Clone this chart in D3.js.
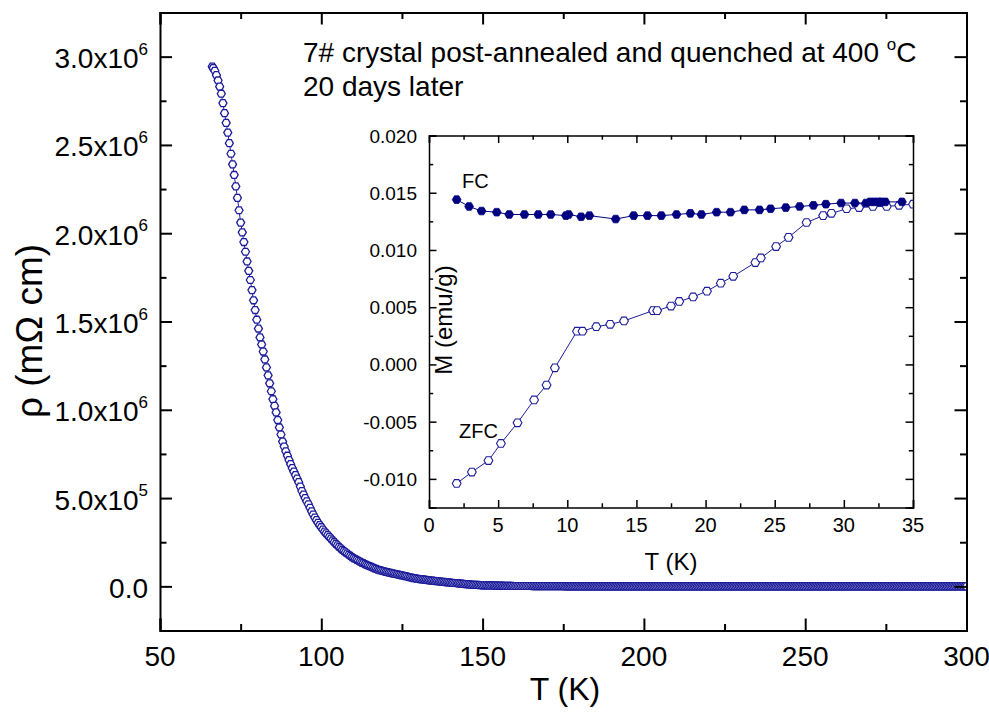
<!DOCTYPE html>
<html>
<head>
<meta charset="utf-8">
<script src="https://d3js.org/d3.v7.min.js"></script>
<style>
  body { margin: 0; background: #fff; }
  text { font-family: "Liberation Sans", Arial, sans-serif; fill: #000; }
</style>
</head>
<body>
<svg id="chart" width="989" height="726"></svg>
<script>
// main curve: resistivity vs temperature (rho in units of 1e6 mOhm cm)
const tempMain = [
  66.2,
  66.5, 67.0, 67.5, 68.0, 68.5, 69.0, 69.5, 70.0, 70.5, 71.0,
  71.5, 72.0, 72.5, 73.0, 73.5, 74.0, 74.5, 75.0, 75.5, 76.0,
  76.5, 77.0, 77.5, 78.0, 78.5, 79.0, 79.5, 80.0, 80.5, 81.0,
  81.5, 82.0, 82.5, 83.0, 83.5, 84.0, 84.5, 85.0, 85.5, 86.0,
  86.5, 87.0, 87.5, 88.0, 88.5, 89.0, 89.5, 90.0, 90.5, 91.0,
  91.5, 92.0, 92.5, 93.0, 93.5, 94.0, 94.5, 95.0, 95.5, 96.0,
  96.5, 97.0, 97.5, 98.0, 98.5, 99.0, 99.5, 100.0, 100.5, 101.0,
  101.5, 102.0, 102.5, 103.0, 103.5, 104.0, 104.5, 105.0, 105.5, 106.0,
  106.5, 107.0, 107.5, 108.0, 108.5, 109.0, 109.5, 110.0, 110.5, 111.0,
  111.5, 112.0, 112.5, 113.0, 113.5, 114.0, 114.5, 115.0, 115.5, 116.0,
  116.5, 117.0, 117.5, 118.0, 118.5, 119.0, 119.5, 120.0, 120.5, 121.0,
  121.5, 122.0, 122.5, 123.0, 123.5, 124.0, 124.5, 125.0, 125.5, 126.0,
  126.5, 127.0, 127.5, 128.0, 128.5, 129.0, 129.5, 130.0, 130.5, 131.0,
  131.5, 132.0, 132.5, 133.0, 133.5, 134.0, 134.5, 135.0, 135.5, 136.0,
  136.5, 137.0, 137.5, 138.0, 138.5, 139.0, 139.5, 140.0, 140.5, 141.0,
  141.5, 142.0, 142.5, 143.0, 143.5, 144.0, 144.5, 145.0, 145.5, 146.0,
  146.5, 147.0, 147.5, 148.0, 148.5, 149.0, 149.5, 150.0, 150.5, 151.0,
  151.5, 152.0, 152.5, 153.0, 153.5, 154.0, 154.5, 155.0, 155.5, 156.0,
  156.5, 157.0, 157.5, 158.0, 158.5, 159.0, 159.5, 160.0, 160.5, 161.0,
  161.5, 162.0, 162.5, 163.0, 163.5, 164.0, 164.5, 165.0, 165.5, 166.0,
  166.5, 167.0, 167.5, 168.0, 168.5, 169.0, 169.5, 170.0, 170.5, 171.0,
  171.5, 172.0, 172.5, 173.0, 173.5, 174.0, 174.5, 175.0, 175.5, 176.0,
  176.5, 177.0, 177.5, 178.0, 178.5, 179.0, 179.5, 180.0, 180.5, 181.0,
  181.5, 182.0, 182.5, 183.0, 183.5, 184.0, 184.5, 185.0, 185.5, 186.0,
  186.5, 187.0, 187.5, 188.0, 188.5, 189.0, 189.5, 190.0, 190.5, 191.0,
  191.5, 192.0, 192.5, 193.0, 193.5, 194.0, 194.5, 195.0, 195.5, 196.0,
  196.5, 197.0, 197.5, 198.0, 198.5, 199.0, 199.5, 200.0, 200.5, 201.0,
  201.5, 202.0, 202.5, 203.0, 203.5, 204.0, 204.5, 205.0, 205.5, 206.0,
  206.5, 207.0, 207.5, 208.0, 208.5, 209.0, 209.5, 210.0, 210.5, 211.0,
  211.5, 212.0, 212.5, 213.0, 213.5, 214.0, 214.5, 215.0, 215.5, 216.0,
  216.5, 217.0, 217.5, 218.0, 218.5, 219.0, 219.5, 220.0, 220.5, 221.0,
  221.5, 222.0, 222.5, 223.0, 223.5, 224.0, 224.5, 225.0, 225.5, 226.0,
  226.5, 227.0, 227.5, 228.0, 228.5, 229.0, 229.5, 230.0, 230.5, 231.0,
  231.5, 232.0, 232.5, 233.0, 233.5, 234.0, 234.5, 235.0, 235.5, 236.0,
  236.5, 237.0, 237.5, 238.0, 238.5, 239.0, 239.5, 240.0, 240.5, 241.0,
  241.5, 242.0, 242.5, 243.0, 243.5, 244.0, 244.5, 245.0, 245.5, 246.0,
  246.5, 247.0, 247.5, 248.0, 248.5, 249.0, 249.5, 250.0, 250.5, 251.0,
  251.5, 252.0, 252.5, 253.0, 253.5, 254.0, 254.5, 255.0, 255.5, 256.0,
  256.5, 257.0, 257.5, 258.0, 258.5, 259.0, 259.5, 260.0, 260.5, 261.0,
  261.5, 262.0, 262.5, 263.0, 263.5, 264.0, 264.5, 265.0, 265.5, 266.0,
  266.5, 267.0, 267.5, 268.0, 268.5, 269.0, 269.5, 270.0, 270.5, 271.0,
  271.5, 272.0, 272.5, 273.0, 273.5, 274.0, 274.5, 275.0, 275.5, 276.0,
  276.5, 277.0, 277.5, 278.0, 278.5, 279.0, 279.5, 280.0, 280.5, 281.0,
  281.5, 282.0, 282.5, 283.0, 283.5, 284.0, 284.5, 285.0, 285.5, 286.0,
  286.5, 287.0, 287.5, 288.0, 288.5, 289.0, 289.5, 290.0, 290.5, 291.0,
  291.5, 292.0, 292.5, 293.0, 293.5, 294.0, 294.5, 295.0, 295.5, 296.0,
  296.5, 297.0, 297.5, 298.0, 298.5, 299.0, 299.5, 300.0
];
const rhoMain = [
  2.944,
  2.935, 2.920, 2.895, 2.865, 2.830, 2.790, 2.737, 2.680, 2.625, 2.570,
  2.510, 2.450, 2.390, 2.330, 2.265, 2.200, 2.130, 2.060, 2.005, 1.950,
  1.895, 1.840, 1.787, 1.735, 1.678, 1.620, 1.565, 1.510, 1.460, 1.410,
  1.370, 1.330, 1.285, 1.240, 1.195, 1.150, 1.105, 1.060, 1.022, 0.985,
  0.942, 0.900, 0.860, 0.820, 0.792, 0.765, 0.740, 0.715, 0.692, 0.670,
  0.650, 0.630, 0.610, 0.590, 0.565, 0.540, 0.520, 0.500, 0.482, 0.465,
  0.445, 0.425, 0.407, 0.390, 0.375, 0.360, 0.347, 0.335, 0.322, 0.310,
  0.300, 0.290, 0.280, 0.270, 0.260, 0.250, 0.241, 0.232, 0.223, 0.215,
  0.207, 0.200, 0.193, 0.186, 0.179, 0.173, 0.166, 0.160, 0.155, 0.150,
  0.145, 0.140, 0.135, 0.131, 0.126, 0.122, 0.118, 0.114, 0.110, 0.106,
  0.102, 0.099, 0.095, 0.092, 0.090, 0.087, 0.085, 0.082, 0.080, 0.078,
  0.076, 0.074, 0.072, 0.070, 0.068, 0.066, 0.064, 0.062, 0.060, 0.058,
  0.056, 0.053, 0.051, 0.049, 0.047, 0.046, 0.044, 0.043, 0.041, 0.040,
  0.039, 0.038, 0.037, 0.035, 0.034, 0.033, 0.032, 0.031, 0.030, 0.029,
  0.028, 0.027, 0.026, 0.025, 0.024, 0.023, 0.022, 0.021, 0.020, 0.019,
  0.019, 0.018, 0.017, 0.016, 0.015, 0.014, 0.013, 0.012, 0.011, 0.011,
  0.010, 0.009, 0.009, 0.008, 0.008, 0.007, 0.007, 0.006, 0.006, 0.006,
  0.005, 0.005, 0.005, 0.005, 0.004, 0.004, 0.004, 0.004, 0.004, 0.004,
  0.003, 0.003, 0.003, 0.003, 0.003, 0.003, 0.002, 0.002, 0.002, 0.002,
  0.002, 0.002, 0.002, 0.002, 0.002, 0.002, 0.002, 0.002, 0.001, 0.001,
  0.001, 0.001, 0.001, 0.001, 0.001, 0.001, 0.001, 0.001, 0.001, 0.001,
  0.001, 0.001, 0.001, 0.001, 0.001, 0.001, 0.001, 0.001, 0, 0,
  0, 0, 0, 0, 0, 0, 0, 0, 0, 0,
  0, 0, 0, 0, 0, 0, 0, 0, 0, 0,
  0, 0, 0, 0, 0, 0, 0, 0, 0, 0,
  0, 0, 0, 0, 0, 0, 0, 0, 0, 0,
  0, 0, 0, 0, 0, 0, 0, 0, 0, 0,
  0, 0, 0, 0, 0, 0, 0, 0, 0, 0,
  0, 0, 0, 0, 0, 0, 0, 0, 0, 0,
  0, 0, 0, 0, 0, 0, 0, 0, 0, 0,
  0, 0, 0, 0, 0, 0, 0, 0, 0, 0,
  0, 0, 0, 0, 0, 0, 0, 0, 0, 0,
  0, 0, 0, 0, 0, 0, 0, 0, 0, 0,
  0, 0, 0, 0, 0, 0, 0, 0, 0, 0,
  0, 0, 0, 0, 0, 0, 0, 0, 0, 0,
  0, 0, 0, 0, 0, 0, 0, 0, 0, 0,
  0, 0, 0, 0, 0, 0, 0, 0, 0, 0,
  0, 0, 0, 0, 0, 0, 0, 0, 0, 0,
  0, 0, 0, 0, 0, 0, 0, 0, 0, 0,
  0, 0, 0, 0, 0, 0, 0, 0, 0, 0,
  0, 0, 0, 0, 0, 0, 0, 0, 0, 0,
  0, 0, 0, 0, 0, 0, 0, 0, 0, 0,
  0, 0, 0, 0, 0, 0, 0, 0, 0, 0,
  0, 0, 0, 0, 0, 0, 0, 0, 0, 0,
  0, 0, 0, 0, 0, 0, 0, 0, 0, 0,
  0, 0, 0, 0, 0, 0, 0, 0, 0, 0,
  0, 0, 0, 0, 0, 0, 0, 0
];

// inset: magnetization, field cooled / zero field cooled
const fcTemp = [2.0, 2.9, 3.8, 4.9, 5.8, 6.9, 7.9, 8.8, 9.9, 10.1, 11.0, 11.6, 13.5, 14.8, 15.8, 16.8, 17.9, 18.9,
  19.7, 20.8, 21.8, 22.8, 23.9, 24.7, 25.8, 26.8, 27.8, 28.7, 29.8, 30.8, 31.6, 31.9, 32.2, 32.5, 32.7, 33.0, 34.2];
const fcM = [0.0144, 0.0138, 0.0134, 0.0133, 0.0131, 0.0131, 0.0131, 0.0131, 0.0130, 0.0131, 0.0129, 0.0130, 0.0127, 0.0130, 0.0130, 0.0130, 0.0131, 0.0132,
  0.0131, 0.0133, 0.0133, 0.0135, 0.0135, 0.0136, 0.0137, 0.0138, 0.0139, 0.0140, 0.0141, 0.0141, 0.0141, 0.0142, 0.0142, 0.0142, 0.0142, 0.0142, 0.0142];
const zfcTemp = [2.0, 3.1, 4.3, 5.2, 6.4, 7.6, 8.5, 9.1, 10.7, 11.1, 12.1, 13.1, 14.1, 16.2, 16.5, 17.5, 18.1, 19.1,
  20.1, 21.1, 22.0, 23.6, 24.0, 25.1, 26.0, 27.3, 28.5, 29.1, 30.2, 31.1, 32.1, 33.1, 34.0, 35.0];
const zfcM = [-0.0104, -0.0094, -0.0084, -0.0069, -0.0051, -0.0031, -0.0018, -0.0003, 0.0029, 0.0029, 0.0033, 0.0035, 0.0038, 0.0047, 0.0047, 0.0051, 0.0055, 0.0059,
  0.0064, 0.0071, 0.0077, 0.0089, 0.0093, 0.0103, 0.0111, 0.0124, 0.0130, 0.0132, 0.0136, 0.0137, 0.0138, 0.0138, 0.0139, 0.0140];

// tick values and labels
const mainXTicks = [50, 100, 150, 200, 250, 300];
const mainXMinor = [75, 125, 175, 225, 275];
const mainYTicks = [0, 0.5, 1.0, 1.5, 2.0, 2.5, 3.0];
const mainYMinor = [0.25, 0.75, 1.25, 1.75, 2.25, 2.75];
const mainYLabels = ["0.0", "5.0x10", "1.0x10", "1.5x10", "2.0x10", "2.5x10", "3.0x10"];
const mainYExp = ["", "5", "6", "6", "6", "6", "6"];
const insetXTicks = [0, 5, 10, 15, 20, 25, 30, 35];
const insetXMinor = [2.5, 7.5, 12.5, 17.5, 22.5, 27.5, 32.5];
const insetYTicks = [-0.010, -0.005, 0.000, 0.005, 0.010, 0.015, 0.020];
const insetYMinor = [-0.0125, -0.0075, -0.0025, 0.0025, 0.0075, 0.0125, 0.0175];

const svg = d3.select("#chart");
const blue = "#1c1c9a", navy = "#000080";

// hexagon marker, flat top and bottom
function hexPath(r) {
  const pts = d3.range(6).map(i => [r * Math.cos(i * Math.PI / 3), r * Math.sin(i * Math.PI / 3)]);
  return "M" + pts.map(p => p[0].toFixed(2) + "," + p[1].toFixed(2)).join("L") + "Z";
}

// ---------- main chart ----------
const x = d3.scaleLinear().domain([50, 300]).range([160, 966.5]);
const y = d3.scaleLinear().domain([-0.25, 3.25]).range([630.5, 12.5]);

svg.append("clipPath").attr("id", "clipMain")
  .append("rect").attr("x", 160).attr("y", 12.5).attr("width", 806.5).attr("height", 618);

const mainData = tempMain.map((t, i) => ({t: t, r: rhoMain[i]}));
const gm = svg.append("g").attr("clip-path", "url(#clipMain)");
gm.append("path").datum(mainData)
  .attr("fill", "none").attr("stroke", blue).attr("stroke-width", 1)
  .attr("d", d3.line().x(d => x(d.t)).y(d => y(d.r)));
gm.selectAll("path.pt").data(mainData).enter().append("path")
  .attr("class", "pt")
  .attr("d", hexPath(4))
  .attr("transform", d => "translate(" + x(d.t) + "," + y(d.r) + ")")
  .attr("fill", "#fff").attr("stroke", blue).attr("stroke-width", 1.3);

// axes with inward ticks (all four sides)
function addAxis(g, axis, majors, minors, bigLen, smallLen, width) {
  g.call(axis.tickValues(majors).tickSize(-bigLen).tickFormat(""));
  const minorG = g.append("g");
  minorG.call(axis.tickValues(minors).tickSize(-smallLen).tickFormat(""));
  minorG.select(".domain").remove();
  g.selectAll("line").attr("stroke", "#000").attr("stroke-width", width);
  g.selectAll(".domain").attr("stroke", "#000").attr("stroke-width", width);
}
addAxis(svg.append("g").attr("transform", "translate(0,630.5)"), d3.axisBottom(x), mainXTicks, mainXMinor, 12, 6.5, 2);
addAxis(svg.append("g").attr("transform", "translate(0,12.5)"), d3.axisTop(x), mainXTicks, mainXMinor, 12, 6.5, 2);
addAxis(svg.append("g").attr("transform", "translate(160,0)"), d3.axisLeft(y), mainYTicks, mainYMinor, 12, 6.5, 2);
addAxis(svg.append("g").attr("transform", "translate(966.5,0)"), d3.axisRight(y), mainYTicks, mainYMinor, 12, 6.5, 2);

// tick labels
svg.append("g").selectAll("text").data(mainXTicks).enter().append("text")
  .attr("x", d => x(d)).attr("y", 666)
  .attr("text-anchor", "middle").attr("font-size", 28)
  .text(d => d);
const yl = svg.append("g").selectAll("text").data(mainYTicks).enter().append("text")
  .attr("x", 148).attr("y", d => y(d) + 11.5)
  .attr("text-anchor", "end").attr("font-size", 28);
yl.append("tspan").text((d, i) => mainYLabels[i]);
yl.append("tspan").attr("font-size", 17).attr("dy", -13.5).text((d, i) => mainYExp[i]);

// axis titles
svg.append("text").attr("x", 565).attr("y", 700)
  .attr("text-anchor", "middle").attr("font-size", 32).text("T (K)");
svg.append("text").attr("transform", "translate(42,331) rotate(-90)")
  .attr("text-anchor", "middle").attr("font-size", 37).text("ρ (mΩ cm)");

// annotation
const note = svg.append("text").attr("x", 303).attr("y", 62).attr("font-size", 28);
note.append("tspan").text("7# crystal post-annealed and quenched at 400 ");
note.append("tspan").attr("font-size", 17).attr("dy", -12).text("o");
note.append("tspan").attr("dy", 12).text("C");
svg.append("text").attr("x", 303).attr("y", 96).attr("font-size", 28).text("20 days later");

// ---------- inset ----------
const ix = d3.scaleLinear().domain([0, 35]).range([429, 913]);
const iy = d3.scaleLinear().domain([-0.0125, 0.020]).range([507.5, 135.5]);

svg.append("rect").attr("x", 429).attr("y", 135.5).attr("width", 484).attr("height", 372).attr("fill", "#fff");
svg.append("clipPath").attr("id", "clipInset")
  .append("rect").attr("x", 429).attr("y", 135.5).attr("width", 484).attr("height", 372);
const gi = svg.append("g").attr("clip-path", "url(#clipInset)");

const zfcData = zfcTemp.map((t, i) => ({t: t, m: zfcM[i]}));
const fcData = fcTemp.map((t, i) => ({t: t, m: fcM[i]}));
const iline = d3.line().x(d => ix(d.t)).y(d => iy(d.m));

gi.append("path").datum(zfcData).attr("fill", "none").attr("stroke", blue).attr("stroke-width", 1).attr("d", iline);
gi.selectAll("path.zfc").data(zfcData).enter().append("path")
  .attr("class", "zfc").attr("d", hexPath(4.4))
  .attr("transform", d => "translate(" + ix(d.t) + "," + iy(d.m) + ")")
  .attr("fill", "#fff").attr("stroke", blue).attr("stroke-width", 1.1);
gi.append("path").datum(fcData).attr("fill", "none").attr("stroke", navy).attr("stroke-width", 1).attr("d", iline);
gi.selectAll("path.fc").data(fcData).enter().append("path")
  .attr("class", "fc").attr("d", hexPath(4.4))
  .attr("transform", d => "translate(" + ix(d.t) + "," + iy(d.m) + ")")
  .attr("fill", navy).attr("stroke", navy).attr("stroke-width", 0.8);

addAxis(svg.append("g").attr("transform", "translate(0,507.5)"), d3.axisBottom(ix), insetXTicks, insetXMinor, 7.5, 4.2, 1.5);
addAxis(svg.append("g").attr("transform", "translate(0,135.5)"), d3.axisTop(ix), insetXTicks, insetXMinor, 7.5, 4.2, 1.5);
addAxis(svg.append("g").attr("transform", "translate(429,0)"), d3.axisLeft(iy), insetYTicks, insetYMinor, 7.5, 4.2, 1.5);
addAxis(svg.append("g").attr("transform", "translate(913,0)"), d3.axisRight(iy), insetYTicks, insetYMinor, 7.5, 4.2, 1.5);

svg.append("g").selectAll("text").data(insetXTicks).enter().append("text")
  .attr("x", d => ix(d)).attr("y", 531.5)
  .attr("text-anchor", "middle").attr("font-size", 20).text(d => d);
svg.append("g").selectAll("text").data(insetYTicks).enter().append("text")
  .attr("x", 417).attr("y", d => iy(d) + 7)
  .attr("text-anchor", "end").attr("font-size", 19).text(d => d3.format(".3f")(d).replace("−", "-"));

svg.append("text").attr("x", 671).attr("y", 570)
  .attr("text-anchor", "middle").attr("font-size", 24).text("T (K)");
svg.append("text").attr("transform", "translate(452,320) rotate(-90)")
  .attr("text-anchor", "middle").attr("font-size", 24).text("M (emu/g)");

svg.append("text").attr("x", 462).attr("y", 188).attr("font-size", 20).text("FC");
svg.append("text").attr("x", 459).attr("y", 438).attr("font-size", 20).text("ZFC");
</script>
</body>
</html>
